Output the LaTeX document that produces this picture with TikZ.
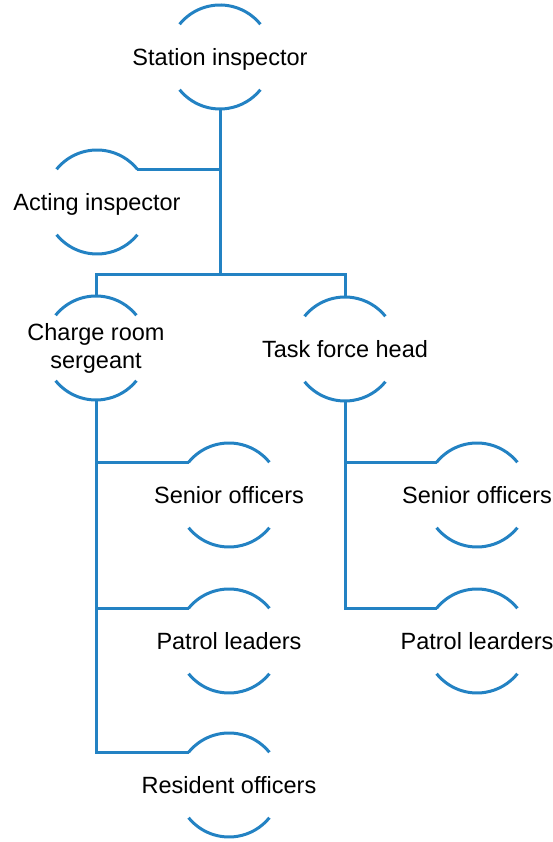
\documentclass[tikz,border=0pt]{standalone}
\usepackage{fontspec}
\setmainfont{Liberation Sans}
\definecolor{orgblue}{RGB}{35,130,195}
\begin{document}
\begin{tikzpicture}[x=1pt,y=1pt,
  lbl/.style={inner sep=0pt, text height=16.8pt, text depth=0pt, font=\fontsize{23.5}{28}\selectfont},
  lbltwo/.style={inner sep=0pt, align=center, font=\fontsize{23.5}{28}\selectfont},
  conn/.style={draw=orgblue, line width=3pt},
  arcline/.style={draw=orgblue, line width=3pt}]
\useasboundingbox (0,0) rectangle (553,842);
\node[lbl] (si) at (220,785) {Station inspector};
\node[lbl] (ai) at (97,640) {Acting inspector};
\node[lbltwo] (crs) at (96,494) {Charge room\\sergeant};
\node[lbl] (tfh) at (345,493) {Task force head};
\node[lbl] (so1) at (229,347) {Senior officers};
\node[lbl] (so2) at (477,347) {Senior officers};
\node[lbl] (pl1) at (229,201) {Patrol leaders};
\node[lbl] (pl2) at (477,201) {Patrol learders};
\node[lbl] (ro) at (229,57) {Resident officers};
\foreach \n in {si,ai,crs,tfh,so1,so2,pl1,pl2,ro}{
  \draw[arcline] ([shift={(141:52)}]\n.center) arc[start angle=141,end angle=39,radius=52];
  \draw[arcline] ([shift={(-141:52)}]\n.center) arc[start angle=-141,end angle=-39,radius=52];
}
\coordinate (bus) at (220,567);
\coordinate (aiR) at ([shift={(39:52)}]ai.center);
\coordinate (so1L) at ([shift={(141:52)}]so1.center);
\coordinate (pl1L) at ([shift={(141:52)}]pl1.center);
\coordinate (roL) at ([shift={(141:52)}]ro.center);
\coordinate (so2L) at ([shift={(141:52)}]so2.center);
\coordinate (pl2L) at ([shift={(141:52)}]pl2.center);
\draw[conn] ([yshift=-52pt]si.center) -- (bus);
\draw[conn] (aiR) -- (aiR -| si.center);
\draw[conn] ([yshift=52pt]crs.center) |- (bus) -| ([yshift=52pt]tfh.center);
\draw[conn] ([yshift=-52pt]crs.center) |- (roL);
\draw[conn] (so1L) -- (so1L -| crs.center);
\draw[conn] (pl1L) -- (pl1L -| crs.center);
\draw[conn] ([yshift=-52pt]tfh.center) |- (pl2L);
\draw[conn] (so2L) -- (so2L -| tfh.center);
\end{tikzpicture}
\end{document}
